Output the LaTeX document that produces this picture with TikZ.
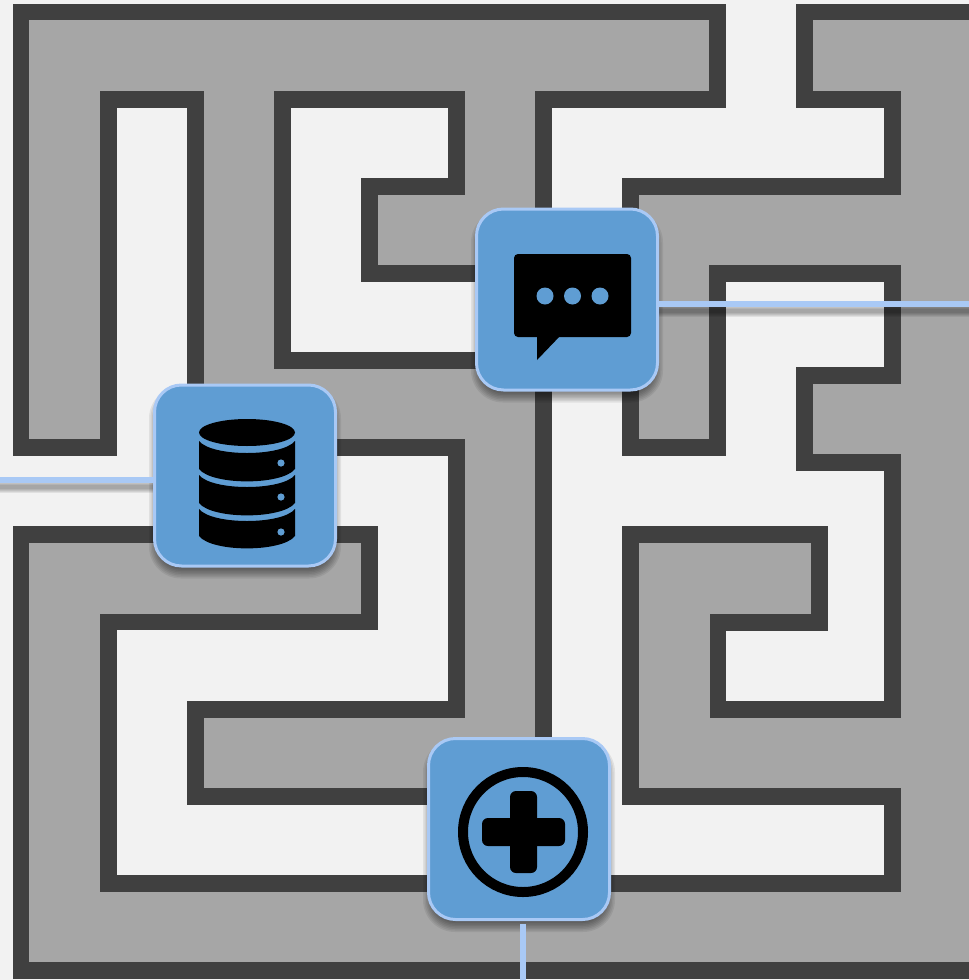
\documentclass[tikz,border=0pt]{standalone}
\definecolor{bgc}{HTML}{F2F2F2}
\definecolor{grayc}{HTML}{A6A6A6}
\definecolor{wallc}{HTML}{404040}
\definecolor{boxc}{HTML}{5F9DD3}
\definecolor{edgec}{HTML}{A9C9F5}
\tikzset{
  wall/.style={draw=wallc,line width=16.9pt,line join=miter,miter limit=10},
  tile/.style={rectangle,rounded corners=27pt,minimum size=181pt,inner sep=0pt,fill=boxc,draw=edgec,line width=3pt},
  link/.style={draw=edgec,line width=6.4pt},
  linkshade/.style={draw=black,opacity=0.07},
  ink/.style={fill=black,draw=none},
  dot/.style={fill=boxc,draw=none}
}
\newcommand{\softshade}[2]{%
  \foreach \g in {5,3.5,2,0.5,-1,-2.5,-4,-5.5}{%
    \pgfmathsetmacro{\rr}{max(27+\g,4)}
    \fill[black,opacity=0.07,rounded corners=\rr pt]
      ({#1-91-\g},{#2-91-\g+7}) rectangle ({#1+91+\g},{#2+91+\g+7});
  }%
}
\begin{document}
\begin{tikzpicture}[x=1pt,y=-1pt]
\useasboundingbox (0,0) rectangle (969,980);
\clip (0,0) rectangle (969,980);
\fill[bgc] (0,0) rectangle (969,980);
% upper-left grey region
\path[wall,fill=grayc] (21,12) -- (717.8,12) -- (717.8,99.2) -- (543.6,99.2) -- (543.6,796.4)
  -- (195.2,796.4) -- (195.2,709.2) -- (456.5,709.2) -- (456.5,447.8) -- (195.2,447.8)
  -- (195.2,99.2) -- (108.1,99.2) -- (108.1,447.8) -- (21,447.8) -- cycle;
% inner corridor
\path[wall,fill=bgc] (282.3,99.2) -- (456.5,99.2) -- (456.5,186.3) -- (369.4,186.3) -- (369.4,273.5)
  -- (543.6,273.5) -- (543.6,360.6) -- (282.3,360.6) -- cycle;
% lower and right grey region
\path[wall,fill=grayc] (21,534.9) -- (369.4,534.9) -- (369.4,622) -- (108.1,622) -- (108.1,883.5)
  -- (892.3,883.5) -- (892.3,796.4) -- (630.9,796.4) -- (630.9,534.9) -- (819.7,534.9) -- (819.7,622.5)
  -- (718,622.5) -- (718,709.4) -- (892.3,709.4) -- (892.3,462.7) -- (804.9,462.7) -- (804.9,375.3)
  -- (892.3,375.3) -- (892.3,273.5) -- (717.8,273.5) -- (717.8,447.8) -- (630.9,447.8) -- (630.9,186.3)
  -- (892.3,186.3) -- (892.3,99.2) -- (804.9,99.2) -- (804.9,12) -- (1000,12) -- (1000,970.6) -- (21,970.6) -- cycle;
% tile shadows
\softshade{567}{299.5}
\softshade{245}{475.5}
\softshade{519}{829}
% tiles
\node[tile] (chat) at (567,299.5) {};
\node[tile] (db) at (245,475.5) {};
\node[tile] (plus) at (519,829) {};
% connectors
\coordinate (endR) at (975,304);
\coordinate (endL) at (-6,480);
\coordinate (endB) at (523,985);
\foreach \w in {12,10,8,6,4}{
  \draw[linkshade,line width=\w pt] ([yshift=-7pt]chat.east |- endR) -- ([yshift=-7pt]endR);
  \draw[linkshade,line width=\w pt] ([yshift=-7pt]db.west |- endL) -- ([yshift=-7pt]endL);
}
\draw[link] (chat.east |- endR) -- (endR);
\draw[link] (db.west |- endL) -- (endL);
\draw[link,shorten <=3pt] (plus.south -| endB) -- (endB);
% chat icon
\fill[ink,rounded corners=4pt] (514,254) rectangle (631,337);
\fill[ink] (537,335) -- (537,360) -- (561,335) -- cycle;
\foreach \cx in {545,572.5,600}{\fill[dot] (\cx,296) circle [radius=8.5];}
% database icon
\fill[ink] (247,432.5) ellipse [x radius=48, y radius=13.5];
\foreach \t/\b in {441/469,475/503,509/536}{
  \fill[ink] (199,\t) .. controls (212,{\t+16}) and (282,{\t+16}) .. (295,\t)
    -- (295,\b) .. controls (282,{\b+16.5}) and (212,{\b+16.5}) .. (199,\b) -- cycle;
}
\foreach \cy in {463,497,532}{\fill[dot] (281,\cy) circle [radius=3.6];}
% plus icon
\draw[black,line width=10pt] (523,832) circle [radius=60];
\fill[ink,rounded corners=6pt] (510,791) rectangle (537,873);
\fill[ink,rounded corners=6pt] (482,818) rectangle (565,846);
\end{tikzpicture}
\end{document}
